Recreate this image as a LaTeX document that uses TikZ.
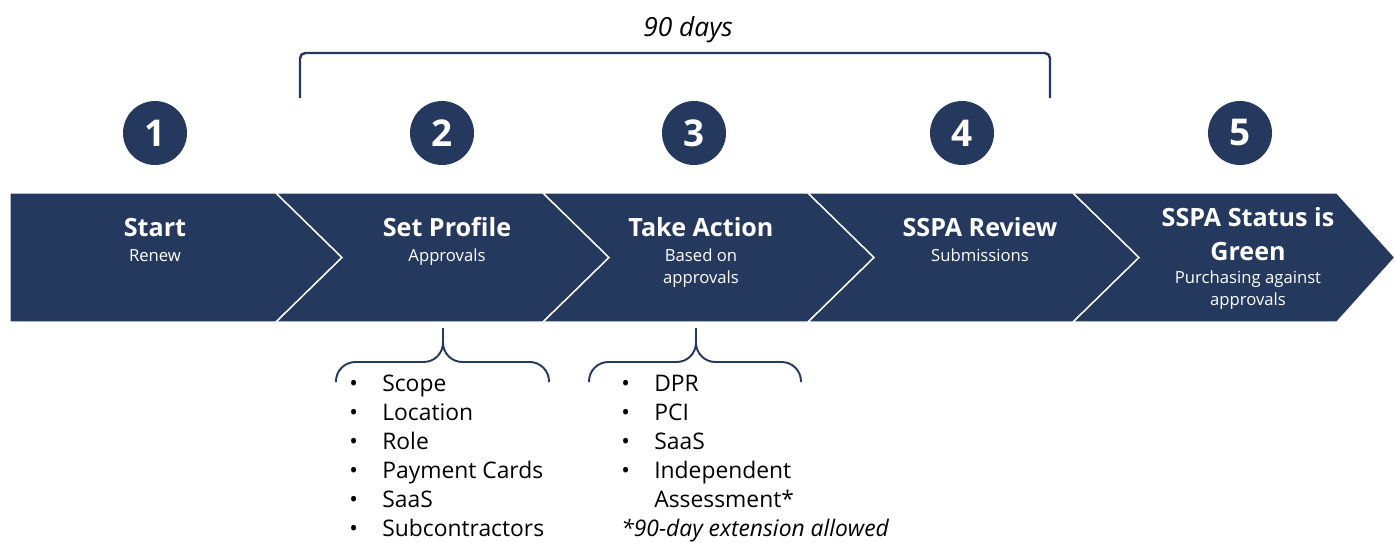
\documentclass[tikz,border=0pt]{standalone}
\usepackage{fontspec}
\setmainfont{Open Sans}
\usetikzlibrary{positioning}
\definecolor{sspanavy}{RGB}{37,57,94}

\begin{document}
\begin{tikzpicture}[x=0.02cm, y=-0.02cm,
    stepnum/.style={circle, fill=sspanavy, text=white, minimum size=1.28cm, inner sep=0pt, font=\fontsize{21}{25}\selectfont\bfseries},
    steptitle/.style={anchor=base, text=white, inner sep=0pt, font=\fontsize{14.3}{19.3}\selectfont\bfseries},
    stepsub/.style={anchor=base, text=white, align=center, inner sep=0pt, font=\fontsize{9.5}{12.2}\selectfont},
    itemlist/.style={anchor=north west, align=left, inner sep=0pt, font=\fontsize{13}{16.44}\selectfont},
    stepband/.style={fill=sspanavy, draw=white, line width=0.8pt, line join=miter},
    bracket/.style={draw=sspanavy, line width=1.1pt, rounded corners=11pt}]
        \useasboundingbox (0,0) rectangle (1395,542);

        % chevron band
        \filldraw [stepband] (10,193) -- (276,193) -- (342,257.5) -- (276,322) -- (10,322) -- cycle;
        \filldraw [stepband] (276,193) -- (543,193) -- (609,257.5) -- (543,322) -- (276,322) -- (342,257.5) -- cycle;
        \filldraw [stepband] (543,193) -- (808,193) -- (874,257.5) -- (808,322) -- (543,322) -- (609,257.5) -- cycle;
        \filldraw [stepband] (808,193) -- (1073,193) -- (1139,257.5) -- (1073,322) -- (808,322) -- (874,257.5) -- cycle;
        \filldraw [stepband] (1073,193) -- (1337,193) -- (1395,257.5) -- (1337,322) -- (1073,322) -- (1139,257.5) -- cycle;

        % step numbers
        \node [stepnum] (N1) at (155, 133) {1};
        \node [stepnum] (N2) at (442, 133) {2};
        \node [stepnum] (N3) at (694, 133) {3};
        \node [stepnum] (N4) at (962, 133) {4};
        \node [stepnum] (N5) at (1240, 133) {5};

        % step texts
        \node [steptitle] (T1) at (155, 236) {Start};
        \node [stepsub] (S1) at (155, 261) {Renew};
        \node [steptitle] (T2) at (447, 236) {Set Profile};
        \node [stepsub] (S2) at (447, 261) {Approvals};
        \node [steptitle] (T3) at (701, 236) {Take Action};
        \node [stepsub] (S3) at (701, 283) {Based on\\approvals};
        \node [steptitle] (T4) at (980, 236) {SSPA Review};
        \node [stepsub] (S4) at (980, 261) {Submissions};
        \node [steptitle, align=center] (T5) at (1248, 260) {SSPA Status is\\Green};
        \node [stepsub] (S5) at (1248, 305) {Purchasing against\\approvals};

        % 90 days bracket
        \node [anchor=base, inner sep=0pt, font=\fontsize{15}{18}\selectfont\itshape] (D) at (688, 36) {90 days};
        \coordinate (DL) at (300, 98);
        \coordinate (DR) at (1050, 98);
        \draw [bracket, line width=1.4pt, rounded corners=3pt] (DL) -- (300, 53) -- (1050, 53) -- (DR);

        % lists under steps 2 and 3
        \node [itemlist] (L1) at (349, 375) {\makebox[0.66cm][l]{•}Scope\\
            \makebox[0.66cm][l]{•}Location\\
            \makebox[0.66cm][l]{•}Role\\
            \makebox[0.66cm][l]{•}Payment Cards\\
            \makebox[0.66cm][l]{•}SaaS\\
            \makebox[0.66cm][l]{•}Subcontractors};
        \node [itemlist] (L2) at (621, 375) {\makebox[0.66cm][l]{•}DPR\\
            \makebox[0.66cm][l]{•}PCI\\
            \makebox[0.66cm][l]{•}SaaS\\
            \makebox[0.66cm][l]{•}Independent\\
            \hspace*{0.66cm}Assessment*\\
            \textit{*90-day extension allowed}};

        % braces
        \coordinate (B1) at (443, 328);
        \coordinate (B2) at (696, 328);
        \draw [bracket] (336, 382) -- (336, 362) -- (443, 362) -- (B1);
        \draw [bracket] (549, 382) -- (549, 362) -- (443, 362) -- (B1);
        \draw [bracket] (589, 382) -- (589, 362) -- (696, 362) -- (B2);
        \draw [bracket] (801, 382) -- (801, 362) -- (696, 362) -- (B2);
    \end{tikzpicture}
\end{document}
